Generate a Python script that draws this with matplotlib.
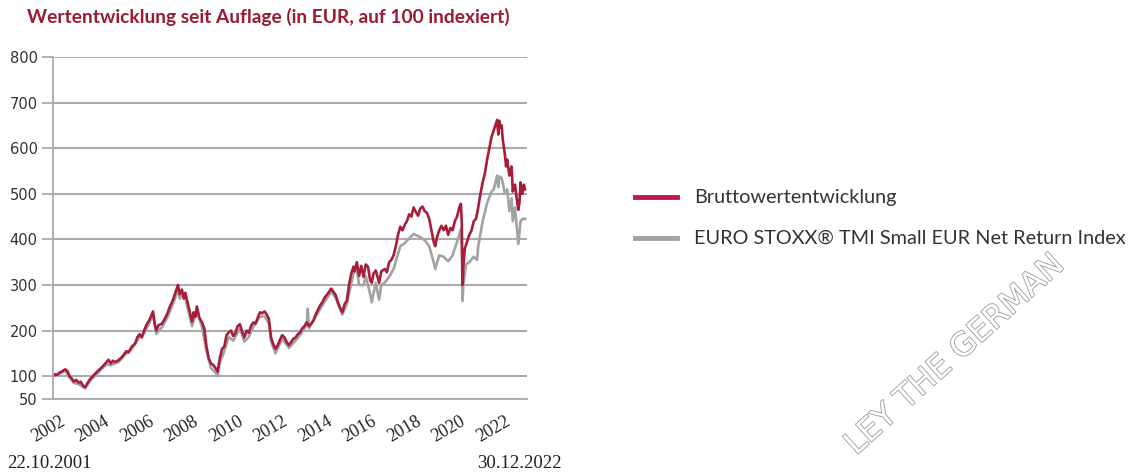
import matplotlib
matplotlib.use("Agg")
import matplotlib.pyplot as plt
import matplotlib.patheffects as pe
from matplotlib.transforms import ScaledTranslation

# ---------------- data ----------------
fund_t = [2001.81, 2001.9, 2002.0, 2002.1, 2002.2, 2002.35, 2002.45, 2002.55, 2002.65, 2002.75,
          2002.85, 2002.95, 2003.05, 2003.15, 2003.25, 2003.35, 2003.45, 2003.6, 2003.75, 2003.9,
          2004.05, 2004.2, 2004.3, 2004.4, 2004.5, 2004.6, 2004.75, 2004.9, 2005.0, 2005.1,
          2005.2, 2005.35, 2005.5, 2005.6, 2005.7, 2005.8, 2005.9, 2006.0, 2006.1, 2006.2,
          2006.3, 2006.38, 2006.45, 2006.55, 2006.7, 2006.85, 2006.95, 2007.05, 2007.15, 2007.25,
          2007.35, 2007.42, 2007.5, 2007.6, 2007.68, 2007.75, 2007.85, 2007.95, 2008.05, 2008.12,
          2008.2, 2008.27, 2008.38, 2008.5, 2008.6, 2008.7, 2008.8, 2008.9, 2009.0, 2009.1,
          2009.2, 2009.3, 2009.4, 2009.5, 2009.6, 2009.7, 2009.8, 2009.9, 2010.0, 2010.1,
          2010.2, 2010.3, 2010.4, 2010.5, 2010.6, 2010.7, 2010.8, 2010.9, 2011.0, 2011.1,
          2011.2, 2011.3, 2011.4, 2011.5, 2011.6, 2011.7, 2011.8, 2011.9, 2012.0, 2012.1,
          2012.2, 2012.3, 2012.4, 2012.5, 2012.6, 2012.7, 2012.8, 2012.9, 2013.0, 2013.1,
          2013.2, 2013.3, 2013.4, 2013.5, 2013.6, 2013.7, 2013.8, 2013.9, 2014.0, 2014.1,
          2014.2, 2014.3, 2014.4, 2014.5, 2014.6, 2014.7, 2014.8, 2014.9, 2015.0, 2015.1,
          2015.2, 2015.3, 2015.35, 2015.45, 2015.55, 2015.65, 2015.75, 2015.85, 2015.95, 2016.05,
          2016.12, 2016.2, 2016.3, 2016.45, 2016.55, 2016.7, 2016.8, 2016.9, 2017.0, 2017.1,
          2017.2, 2017.3, 2017.4, 2017.5, 2017.6, 2017.7, 2017.8, 2017.9, 2018.0, 2018.1,
          2018.2, 2018.3, 2018.4, 2018.5, 2018.6, 2018.7, 2018.8, 2018.9, 2018.97, 2019.05,
          2019.15, 2019.25, 2019.35, 2019.45, 2019.55, 2019.65, 2019.75, 2019.85, 2019.95, 2020.05,
          2020.12, 2020.16, 2020.2, 2020.23, 2020.3, 2020.4, 2020.5, 2020.6, 2020.7, 2020.8,
          2020.9, 2021.0, 2021.1, 2021.2, 2021.3, 2021.4, 2021.5, 2021.6, 2021.7, 2021.75,
          2021.8, 2021.85, 2021.9, 2021.95, 2022.0, 2022.1, 2022.15, 2022.2, 2022.3, 2022.4,
          2022.45, 2022.55, 2022.6, 2022.7, 2022.75, 2022.8, 2022.88, 2022.95, 2023.0]
fund_v = [100, 104, 103, 108, 110, 115, 112, 100, 95, 88,
          92, 86, 88, 80, 76, 84, 92, 100, 108, 115,
          122, 130, 136, 128, 134, 131, 135, 142, 148, 155,
          152, 165, 172, 186, 192, 185, 200, 212, 220, 230,
          242, 214, 200, 212, 215, 228, 238, 252, 262, 275,
          290, 300, 280, 290, 270, 283, 262, 240, 220, 240,
          230, 253, 228, 218, 205, 165, 140, 128, 125, 118,
          110, 140, 160, 165, 190, 196, 200, 188, 195, 210,
          214, 198, 185, 200, 195, 210, 218, 215, 228, 240,
          238, 242, 236, 226, 185, 170, 160, 168, 180, 190,
          185, 175, 168, 175, 182, 185, 192, 196, 205, 210,
          218, 210, 215, 222, 235, 245, 255, 262, 272, 278,
          285, 292, 285, 278, 262, 250, 240, 258, 265, 300,
          325, 340, 330, 350, 320, 342, 318, 345, 340, 310,
          305, 325, 332, 305, 330, 335, 328, 350, 355, 365,
          385, 410, 428, 420, 432, 440, 455, 450, 470, 460,
          452, 468, 472, 462, 458, 445, 420, 395, 385, 405,
          420, 430, 420, 430, 410, 425, 420, 440, 450, 470,
          478, 440, 300, 340, 380, 395, 410, 420, 440, 445,
          470, 500, 525, 545, 575, 600, 625, 640, 655, 662,
          630, 660, 645, 650, 620, 585, 560, 575, 540, 560,
          505, 520, 500, 465, 480, 525, 500, 520, 510]

index_t = [2001.81, 2002.1, 2002.35, 2002.55, 2002.75, 2002.95, 2003.25, 2003.45, 2003.6, 2003.9,
           2004.2, 2004.4, 2004.75, 2005.1, 2005.35, 2005.7, 2005.9, 2006.1, 2006.3, 2006.45,
           2006.7, 2006.95, 2007.25, 2007.42, 2007.5, 2007.6, 2007.75, 2007.95, 2008.05, 2008.27,
           2008.5, 2008.7, 2008.9, 2009.1, 2009.2, 2009.3, 2009.5, 2009.7, 2009.9, 2010.2,
           2010.4, 2010.6, 2010.8, 2011.1, 2011.3, 2011.5, 2011.6, 2011.8, 2012.1, 2012.4,
           2012.7, 2012.9, 2013.2, 2013.25, 2013.3, 2013.6, 2013.9, 2014.3, 2014.5, 2014.8,
           2015.0, 2015.3, 2015.45, 2015.55, 2015.75, 2015.85, 2016.05, 2016.12, 2016.3, 2016.45,
           2016.55, 2016.7, 2016.9, 2017.1, 2017.3, 2017.4, 2017.6, 2017.8, 2018.0, 2018.3,
           2018.5, 2018.7, 2018.9, 2018.97, 2019.15, 2019.35, 2019.55, 2019.75, 2019.95, 2020.12,
           2020.16, 2020.2, 2020.23, 2020.35, 2020.5, 2020.7, 2020.85, 2020.9, 2021.1, 2021.3,
           2021.5, 2021.6, 2021.75, 2021.8, 2021.85, 2021.95, 2022.1, 2022.2, 2022.3, 2022.4,
           2022.45, 2022.55, 2022.7, 2022.8, 2022.9, 2023.0]
index_v = [100, 105, 112, 97, 85, 83, 73, 88, 96, 111,
           126, 124, 131, 150, 160, 186, 194, 213, 234, 193,
           207, 229, 265, 290, 270, 280, 272, 230, 210, 243,
           208, 155, 118, 108, 100, 130, 155, 186, 178, 204,
           176, 186, 208, 230, 232, 216, 176, 150, 182, 162,
           178, 190, 212, 248, 205, 230, 255, 285, 272, 235,
           258, 325, 335, 300, 300, 320, 280, 262, 305, 268,
           300, 305, 318, 335, 368, 385, 392, 402, 412, 405,
           398, 385, 350, 335, 365, 362, 352, 365, 395, 422,
           380, 265, 300, 345, 350, 362, 355, 385, 440, 480,
           505, 510, 540, 515, 538, 535, 500, 510, 462, 490,
           440, 470, 390, 440, 445, 445]

year_ticks = [2002, 2004, 2006, 2008, 2010, 2012, 2014, 2016, 2018, 2020, 2022]
y_ticks = [50, 100, 200, 300, 400, 500, 600, 700, 800]

title = "Wertentwicklung seit Auflage (in EUR, auf 100 indexiert)"
label_fund = "Bruttowertentwicklung"
label_index = "EURO STOXX\u00ae TMI Small EUR Net Return Index"
start_label = "22.10.2001"
end_label = "30.12.2022"
watermark = "LEY THE GERMAN"

RED = "#A81E3A"
RED_LEG = "#C5174A"
GRAY = "#A3A3A3"
GRID = "#ABABAB"

W, H = 1128, 473
fig = plt.figure(figsize=(W / 100, H / 100), dpi=100)
fig.patch.set_facecolor("white")

ax = fig.add_axes([53 / W, 1 - 399 / H, (527 - 53) / W, (399 - 57) / H])
ax.set_xlim(2001.81, 2023.09)
ax.set_ylim(50, 800)

ax.plot(index_t, index_v, color=GRAY, lw=1.9, solid_joinstyle="round")
ax.plot(fund_t, fund_v, color=RED, lw=1.9, solid_joinstyle="round")

for s in ["top", "right"]:
    ax.spines[s].set_visible(False)
for s in ["left", "bottom"]:
    ax.spines[s].set_color(GRID)
    ax.spines[s].set_linewidth(1.3)

ax.set_yticks(y_ticks)
ax.set_yticklabels([str(v) for v in y_ticks], fontsize=10.5, family="DejaVu Sans", color="#333333")
ax.tick_params(axis="y", length=8, width=1.3, color=GRID, pad=3)
ax.yaxis.grid(True, color=GRID, lw=1.5)
ax.set_axisbelow(True)

ax.set_xticks(year_ticks)
ax.set_xticklabels([str(y) for y in year_ticks], rotation=30, ha="right", va="top",
                   rotation_mode="anchor", fontsize=13, family="Liberation Serif", color="#222222")
ax.tick_params(axis="x", length=0, pad=10)
shift = ScaledTranslation(2 / 100, 0, fig.dpi_scale_trans)
for lab in ax.get_xticklabels():
    lab.set_transform(lab.get_transform() + shift)

fig.text(27 / W, 1 - 17 / H, title, fontsize=13.8, fontweight="bold", family="Lato",
         color="#9B1B33", va="center", ha="left")

fig.text(7 / W, 1 - 463 / H, start_label, fontsize=13.5, family="Liberation Serif",
         color="#222222", va="center", ha="left")
fig.text(562 / W, 1 - 463 / H, end_label, fontsize=13.5, family="Liberation Serif",
         color="#222222", va="center", ha="right")

# legend drawn manually
fig.add_artist(plt.Line2D([635 / W, 677 / W], [1 - 197 / H] * 2, color=RED_LEG, lw=3.5,
                          transform=fig.transFigure))
fig.add_artist(plt.Line2D([635 / W, 677 / W], [1 - 238 / H] * 2, color=GRAY, lw=3.5,
                          transform=fig.transFigure))
fig.text(694 / W, 1 - 197 / H, label_fund, fontsize=14.3, family="Lato", color="#333333",
         va="center", ha="left")
fig.text(694 / W, 1 - 238 / H, label_index, fontsize=14.3, family="Lato", color="#333333",
         va="center", ha="left")

# watermark
fig.text(955 / W, 1 - 355 / H, watermark, fontsize=23, family="DejaVu Sans",
         rotation=42, color="white", ha="center", va="center",
         path_effects=[pe.withStroke(linewidth=1.2, foreground="#9a9a9a")])

fig.savefig("out.png", dpi=100, facecolor="white")
